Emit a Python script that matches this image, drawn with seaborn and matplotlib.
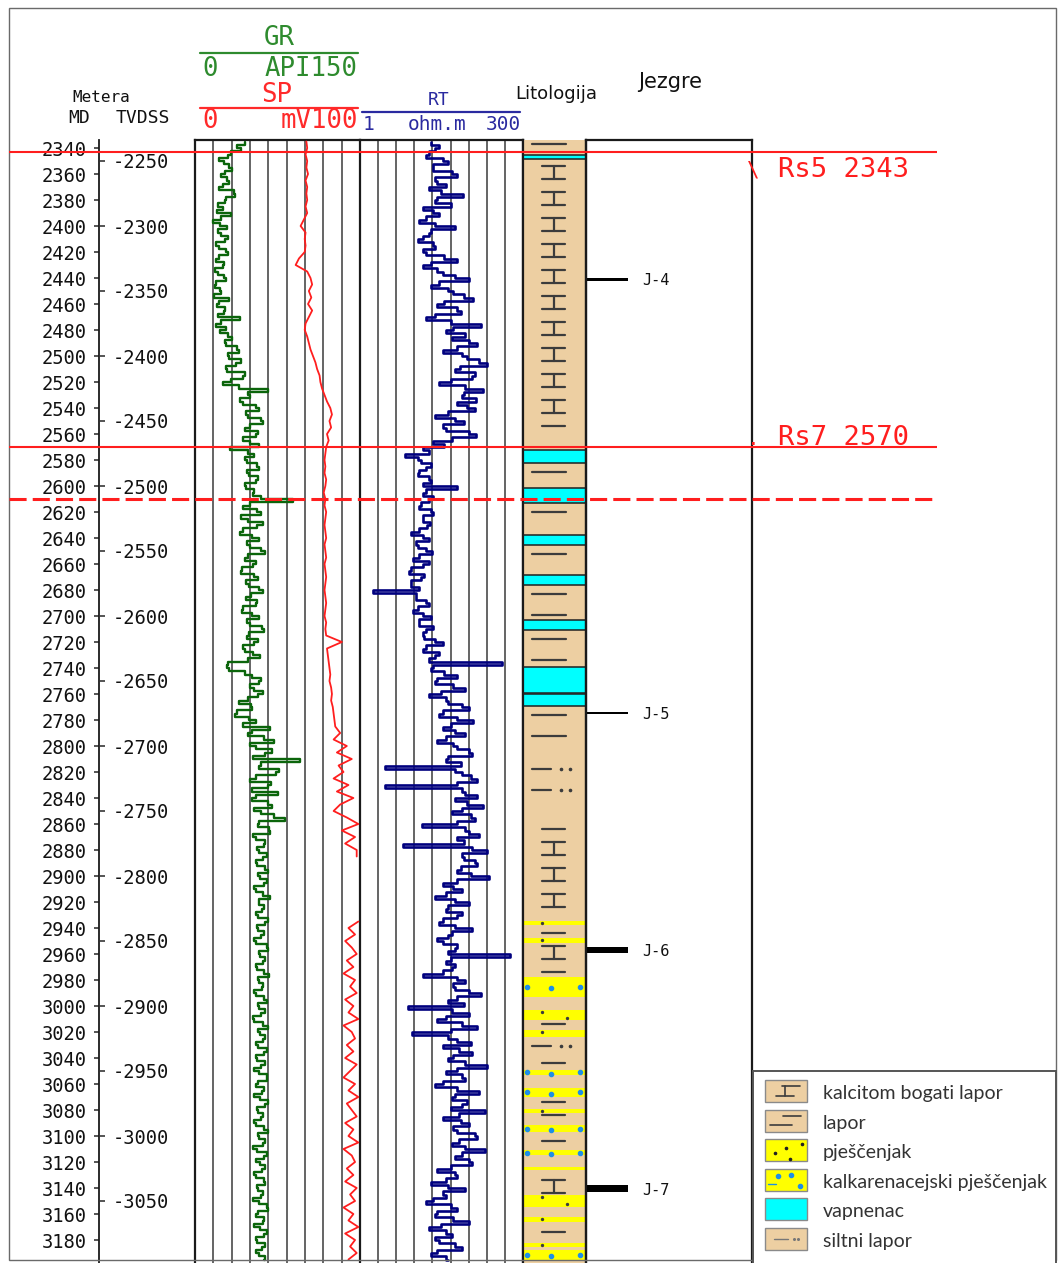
"""
Well log panel: GR / SP / RT curves with lithology and core columns.
Digitised by hand from the reference picture (GR, RT at 2.5 m, SP at 5 m).
"""
import numpy as np
import pandas as pd
import matplotlib
matplotlib.use("Agg")
import matplotlib.pyplot as plt
from matplotlib.patches import Rectangle
from matplotlib.ticker import FixedLocator, NullLocator
import seaborn as sns

# ---------------------------------------------------------------- data
md_fine = np.arange(2335, 3197.5, 2.5)   # MD of GR / RT samples (m)
md_sp = np.arange(2335, 3200, 5)          # MD of SP samples (m)

gr = [45, 38, 42, 33, 30, 22, 26, 31, 34, 27, 24, 29, 31, 25, 22, 35, 36, 28, 27, 21,   # 2335-
      25, 20, 33, 24, 16, 23, 29, 21, 24, 30, 27, 19, 22, 28, 30, 22, 19, 26, 25, 18,   # 2385-
      21, 26, 28, 19, 18, 23, 24, 17, 31, 22, 20, 27, 26, 21, 41, 24, 19, 28, 23, 30,   # 2435-
      34, 27, 28, 38, 40, 30, 31, 42, 37, 28, 29, 45, 44, 33, 25, 40, 66, 48, 50, 41,   # 2485-
      44, 55, 58, 46, 48, 60, 62, 50, 45, 57, 55, 44, 50, 58, 32, 48, 54, 45, 47, 56,   # 2535-
      58, 47, 49, 57, 55, 45, 46, 54, 53, 60, 89, 50, 44, 56, 60, 42, 48, 62, 56, 44,   # 2585-
      41, 52, 58, 47, 50, 60, 64, 48, 45, 55, 53, 43, 42, 54, 57, 46, 49, 58, 62, 51,   # 2635-
      46, 56, 55, 44, 43, 52, 58, 47, 50, 61, 63, 49, 47, 57, 54, 44, 45, 53, 59, 48,   # 2685-
      30, 29, 31, 45, 52, 60, 58, 50, 54, 62, 57, 48, 40, 51, 52, 38, 36, 49, 55, 44,   # 2735-
      68, 52, 48, 63, 72, 50, 55, 70, 64, 53, 95, 60, 58, 76, 74, 55, 50, 69, 66, 52,   # 2785-
      75, 55, 52, 66, 70, 54, 60, 72, 82, 58, 57, 67, 68, 53, 55, 64, 63, 56, 58, 65,   # 2835-
      62, 55, 56, 64, 66, 57, 59, 65, 63, 54, 55, 62, 68, 58, 58, 63, 61, 55, 57, 66,   # 2885-
      64, 56, 57, 63, 60, 54, 55, 65, 66, 58, 59, 64, 62, 55, 56, 63, 67, 57, 58, 62,   # 2935-
      61, 54, 55, 63, 65, 57, 58, 64, 60, 53, 54, 62, 66, 57, 59, 64, 62, 55, 57, 65,   # 2985-
      63, 55, 56, 64, 60, 54, 58, 65, 65, 57, 55, 63, 61, 54, 59, 66, 64, 56, 57, 62,   # 3035-
      60, 54, 55, 63, 66, 57, 58, 64, 62, 53, 56, 65, 63, 55, 59, 64, 61, 54, 55, 63,   # 3085-
      64, 56, 57, 62, 60, 53, 58, 65, 66, 57, 55, 63, 62, 54, 59, 65, 63, 55, 56, 64,   # 3135-
      61, 55, 58, 64, 63]                                                               # 3185-

rt = [12, 16, 14, 11, 10, 18, 22, 13, 13, 25, 30, 14, 15, 20, 11, 17, 37, 15, 14, 24,
      9, 13, 16, 10, 8, 14, 28, 12, 11, 9, 7.5, 13, 14, 9, 10, 19, 30, 12, 9, 15,
      18, 28, 45, 16, 12, 22, 26, 38, 52, 19, 15, 30, 34, 14, 10, 24, 70, 26, 20, 40,
      25, 45, 60, 30, 18, 36, 42, 65, 85, 33, 28, 55, 50, 24, 16, 40, 75, 38, 35, 58,
      30, 42, 55, 22, 14, 28, 38, 18, 20, 45, 58, 25, 13, 19, 9, 11, 4.8, 7.5, 8.5, 12,
      10, 8, 7.5, 11, 12, 9, 30, 10, 9, 13, 11, 8.5, 8, 12, 13, 9, 9, 11.5, 10.5, 8,
      6, 9, 11, 7, 7.5, 10, 12.5, 8, 6.5, 11, 9, 6, 5.5, 9.5, 8.5, 6, 6, 8, 1.6, 7,
      7, 10, 11, 7.5, 6.5, 9, 12, 8, 8, 13, 10, 9, 9.5, 14, 18, 10, 9, 16, 14, 11,
      144, 13, 12, 19, 30, 15, 14, 26, 40, 17, 11, 20, 22, 35, 45, 18, 16, 30, 52, 24,
      18, 28, 40, 20, 15, 26, 30, 45, 50, 22, 20, 34, 2.4, 28, 35, 48, 60, 30, 2.4, 36,
      40, 60, 28, 42, 75, 35, 25, 48, 55, 30, 8.8, 40, 45, 65, 30, 38, 4.5, 50, 85, 36,
      38, 55, 60, 34, 30, 48, 90, 30, 18, 26, 35, 20, 14, 28, 45, 22, 20, 36, 30, 18,
      16, 28, 50, 25, 22, 15, 18, 30, 28, 22, 190, 24, 20, 28, 25, 18, 9, 30, 40, 26,
      28, 45, 70, 30, 22, 38, 5.4, 25, 45, 20, 15, 35, 60, 24, 6.2, 22, 30, 48, 18, 32,
      50, 26, 22, 40, 85, 30, 20, 36, 40, 18, 14, 30, 65, 28, 25, 42, 35, 24, 80, 32,
      18, 34, 45, 26, 30, 55, 60, 32, 25, 40, 80, 36, 28, 45, 50, 24, 15, 28, 30, 20,
      12, 22, 40, 18, 20, 13, 10, 24, 30, 15, 14, 26, 45, 17, 11, 20, 25, 14, 16, 28,
      35, 15, 12, 20, 22]

nan = np.nan
sp = [67.5, 68, 67, 68, 67.5, 68.5, 67, 68, 67.5, 68,          # 2335-
      67, 68, 66, 64, 67, 66.5, 67, 66.5, 63, 61,              # 2385-
      68, 70, 71, 69, 70.5, 68.5, 71, 69, 67, 66.5,            # 2435-
      68, 69, 70, 71.5, 73, 74, 75.5, 76, 77, 78.5,            # 2485-
      80, 82, 83, 81.5, 82.5, 80, 81, 79.5, 79, 78.5,          # 2535-
      79, 78.5, 79.5, 79, 78, 79, 78.5, 79.5, 79, 78.5,        # 2585-
      79, 79.5, 78.5, 79, 79.5, 78.5, 79, 79.5, 79, 78.5,      # 2635-
      79, 79.5, 79, 78.5, 79.5, 79, 79.5, 89, 80, 80.5,        # 2685-
      81, 81.5, 82, 81.5, 82.5, 83, 82.5, 83.5, 84, 84.5,      # 2735-
      85, 88, 84, 92, 86, 95, 87, 90, 84, 93,                  # 2785-
      86, 96, 88, 84, 92, 99, 89, 97, 91, 98,                  # 2835-
      98, nan, nan, nan, nan, nan, nan, nan, nan, nan,         # 2885-
      99, 93, 97, 91, 95, 98, 92, 96, 90, 97,                  # 2935-
      94, 98, 91, 96, 93, 99, 90, 95, 97, 92,                  # 2985-
      96, 91, 98, 94, 90, 97, 93, 99, 92, 95,                  # 3035-
      98, 91, 96, 93, 99, 90, 95, 97, 92, 96,                  # 3085-
      91, 98, 94, 97, 90, 96, 93, 99, 91, 97,                  # 3135-
      94, 98, 93]                                              # 3185-

md_ticks = list(range(2340, 3181, 20))
tvd_ticks = list(range(2350, 3151, 50))   # MD of the TVDSS ticks
tvd_shift = 100                           # TVDSS = shift - MD

top_names = ["Rs5", "Rs7"]
top_md = [2343, 2570]
marker_md = 2610                          # dashed red line

core_names = ["J-4", "J-5", "J-6", "J-7"]
core_top = [2440, 2773.5, 2954.5, 3138]
core_base = [2442, 2775.5, 2959.5, 3143]

lith_top = [2330, 2345.5, 2348.5, 2562, 2572, 2582, 2601.5, 2613, 2638, 2645.5,
            2668.5, 2676, 2703, 2711, 2739, 2759, 2760, 2769, 2811, 2853,
            2934.5, 2937.5, 2947.5, 2951.5, 2977.5, 2993, 3003, 3011, 3018.5, 3024,
            3041.5, 3049, 3053, 3063, 3070, 3079, 3082.5, 3091.5, 3097, 3111,
            3114.5, 3124, 3126, 3145.5, 3154.5, 3162.5, 3166, 3182.5, 3185.5, 3187.5,
            3195]
lith_type = ["lapor", "vap", "kalc", "lapor", "vap", "lapor", "vap", "lapor", "vap", "lapor",
             "vap", "lapor", "vap", "lapor", "vap", "lapor", "vap", "lapor", "silt", "kalc",
             "pjes", "kalc", "pjes", "kalc", "kalk", "kalc", "pjes", "kalc", "pjes", "silt",
             "kalc", "kalk", "kalc", "kalk", "kalc", "pjes", "kalc", "kalk", "kalc", "kalk",
             "kalc", "pjes", "kalc", "pjes", "kalc", "pjes", "kalc", "pjes", "kalc", "kalk",
             "kalc"]
lith_base = lith_top[1:] + [3210]

legend_kinds = ["kalc", "lapor", "pjes", "kalk", "vap", "silt"]
legend_labels = ["kalcitom bogati lapor", "lapor", "pješčenjak",
                 "kalkarenacejski pješčenjak", "vapnenac", "siltni lapor"]

# ---------------------------------------------------------------- style
W, H = 1059, 1263
MONO = "DejaVu Sans Mono"
TAN, YEL, CYAN = "#EDCFA2", "#FFFF00", "#00FFFF"
LITH_COLOR = {"kalc": TAN, "lapor": TAN, "silt": TAN, "pjes": YEL, "kalk": YEL, "vap": CYAN}
INK = "#3c3c3c"
GRID = "#3a3a3a"
RED = "#ff1e1e"

sns.set_style("white")
plt.rcParams["font.family"] = ["DejaVu Sans"]

fig = plt.figure(figsize=(W / 100, H / 100), dpi=100)


def px_axes(x0, y0, x1, y1, label):
    return fig.add_axes([x0 / W, 1 - y1 / H, (x1 - x0) / W, (y1 - y0) / H], label=label)


def depth_of(py):
    # vertical scale of the log: 2340 m at 148 px, 1.3 px per metre
    return 2340 + (py - 148) / 1.3


YTOP, YBOT = depth_of(140), depth_of(H)


def clean(ax, keep=()):
    for side in ["top", "bottom", "left", "right"]:
        ax.spines[side].set_visible(side in keep)
        ax.spines[side].set_color("#1a1a1a")
        ax.spines[side].set_linewidth(1.6)
    ax.set_ylim(YBOT, YTOP)
    ax.tick_params(length=0, labelbottom=False, labelleft=False, labeltop=False)
    ax.set_xlabel("")
    ax.set_ylabel("")
    ax.patch.set_alpha(0)


# ---------------------------------------------------------------- depth axis
ax_md = px_axes(99, 140, 100, H, "md")
clean(ax_md, keep=("left",))
ax_md.spines["left"].set_linewidth(1.3)
ax_md.set_xticks([])
ax_md.set_yticks(md_ticks)
ax_md.set_yticklabels([str(v) for v in md_ticks], fontfamily=MONO, fontsize=13.5, color="#111")
ax_md.tick_params(axis="y", left=True, direction="out", length=3.3, width=1.1,
                  pad=5.5, labelleft=True)

ax_tv = px_axes(99, 140, 100, H, "tvd")
clean(ax_tv)
ax_tv.set_xticks([])
ax_tv.yaxis.tick_right()
ax_tv.set_yticks(tvd_ticks)
ax_tv.set_yticklabels([str(tvd_shift - v) for v in tvd_ticks], fontfamily=MONO,
                      fontsize=13.5, color="#111")
ax_tv.tick_params(axis="y", right=True, direction="out", length=3.3, width=1.1,
                  pad=6.0, labelright=True)

# ---------------------------------------------------------------- GR / SP track
fine_df = pd.DataFrame({"md": md_fine, "gr": gr, "rt": rt})
sp_df = pd.DataFrame({"md": md_sp, "sp": sp})
sp_df["seg"] = sp_df["sp"].isna().cumsum()
sp_df = sp_df.dropna(subset=["sp"])

ax_gr = px_axes(195, 140, 360, H, "gr")
sns.lineplot(data=fine_df, x="gr", y="md", orient="y", sort=False, estimator=None,
             color="#0b650b", lw=1.7, drawstyle="steps-pre", ax=ax_gr)
ax_gr.set_xlim(0, 150)
ax_gr.xaxis.set_major_locator(FixedLocator(np.linspace(0, 150, 10)[1:-1]))
ax_gr.grid(axis="x", color=GRID, lw=1.1)
ax_gr.set_yticks([])
clean(ax_gr, keep=("top", "left", "right"))

ax_sp = ax_gr.twiny()
sns.lineplot(data=sp_df, x="sp", y="md", units="seg", orient="y", sort=False,
             estimator=None, color=RED, lw=1.3, ax=ax_sp)
ax_sp.set_xlim(0, 100)
ax_sp.set_xticks([])
clean(ax_sp)

# ---------------------------------------------------------------- RT track
ax_rt = px_axes(360, 140, 523, H, "rt")
ax_rt.set_xscale("log")
sns.lineplot(data=fine_df, x="rt", y="md", orient="y", sort=False, estimator=None,
             color="#00007f", lw=1.9, drawstyle="steps-pre", ax=ax_rt)
ax_rt.set_xlim(1, 300)
ax_rt.xaxis.set_major_locator(FixedLocator(300 ** (np.arange(1, 9) / 9)))
ax_rt.xaxis.set_minor_locator(NullLocator())
ax_rt.grid(axis="x", which="major", color=GRID, lw=1.1)
ax_rt.set_yticks([])
clean(ax_rt, keep=("top", "right"))

# ---------------------------------------------------------------- lithology column
ax_li = px_axes(523, 140, 586, H, "lith")
ax_li.set_xlim(0, 1)
for top, base, kind in zip(lith_top, lith_base, lith_type):
    ax_li.axhspan(top, base, facecolor=LITH_COLOR[kind], lw=0, zorder=1)
    if kind == "vap":
        ax_li.hlines([top, base], 0, 1, color="#202020", lw=1.1, zorder=3)
    elif kind in ("lapor", "silt"):
        for d in np.arange(top + 7, base - 3, 16):
            if kind == "lapor":
                ax_li.plot([0.15, 0.68], [d, d], color=INK, lw=1.6, zorder=3)
            else:
                ax_li.plot([0.15, 0.45], [d, d], color=INK, lw=1.6, zorder=3)
                ax_li.plot([0.6, 0.74], [d, d], ls="none", marker="o", ms=1.6,
                           color=INK, zorder=3)
    elif kind == "pjes":
        for j, d in enumerate(np.arange(top + 1.5, base - 0.5, 5)):
            ax_li.plot([0.3 + 0.4 * (j % 2)], [d], marker="o", ms=1.4, color=INK, zorder=3)
    elif kind == "kalk":
        mid = (top + base) / 2
        ax_li.plot([0.07, 0.45, 0.9], [mid, mid + 1, mid], ls="none", marker="o", ms=3,
                   color="#1e8fe6", zorder=3)

# calcite-rich marl: dashes every 10 m, every other pair joined by a stem
grid_md = np.arange(2354, 3200, 10)
for k, g in enumerate(grid_md):
    i = np.searchsorted(lith_top, g, side="right") - 1
    if lith_type[i] != "kalc" or g < lith_top[i] + 1.5 or g > lith_base[i] - 1.5:
        continue
    ax_li.plot([0.3, 0.67], [g, g], color=INK, lw=1.6, zorder=3)
    if k % 2 == 0 and g + 10 <= lith_base[i] - 1.5:
        ax_li.plot([0.485, 0.485], [g, g + 10], color=INK, lw=1.6, zorder=3)

ax_li.set_yticks(np.arange(2340, 3200, 10))
clean(ax_li, keep=("left", "right"))
ax_li.tick_params(axis="y", left=True, right=True, direction="in", length=3.5,
                  width=1.2, color="#202020")

# ---------------------------------------------------------------- cores
ax_co = px_axes(586, 140, 752, H, "core")
ax_co.set_xlim(0, 1)
for name, t, b in zip(core_names, core_top, core_base):
    ax_co.add_patch(Rectangle((0, t), 0.253, b - t, color="black", lw=0))
    ax_co.text(0.34, (t + b) / 2, name, fontfamily=MONO, fontsize=11,
               va="center_baseline", ha="left", color="#111")
ax_co.set_yticks([])
clean(ax_co, keep=("top", "left", "right"))

# ---------------------------------------------------------------- formation tops overlay
ax_ov = px_axes(0, 140, W, H, "tops")
ax_ov.set_xlim(0, W)
ax_ov.set_zorder(10)
ax_ov.hlines(top_md, 9, 937, color=RED, lw=1.5)
ax_ov.hlines([marker_md], 9, 937, color=RED, lw=2.2, linestyles=(0, (5.6, 2.0)))
label_dy = [25, -2]     # baseline offset of each label from its line, px
mark = ["\\", "."]
for name, d, dy, m in zip(top_names, top_md, label_dy, mark):
    ax_ov.text(747, d + dy / 1.3, m, fontfamily=MONO, fontsize=15,
               color=RED, va="baseline", ha="left")
    ax_ov.text(778, d + dy / 1.3, f"{name} {d}", fontfamily=MONO, fontsize=19.5,
               color=RED, va="baseline", ha="left")
ax_ov.set_xticks([])
ax_ov.set_yticks([])
clean(ax_ov)

# ---------------------------------------------------------------- header
ax_hd = px_axes(0, 0, W, 140, "header")
ax_hd.set_xlim(0, W)
ax_hd.set_ylim(140, 0)
ax_hd.axis("off")
green_t, red_t, blue_t = "#2e8b2e", "#ff2a2a", "#2a2aa0"
big = dict(fontfamily=MONO, fontsize=18.5, va="baseline")
ax_hd.text(279, 45, "GR", color=green_t, ha="center", **big)
ax_hd.plot([200, 358], [52.5, 52.5], color=green_t, lw=1.6)
ax_hd.text(202, 75.5, "0", color=green_t, ha="left", **big)
ax_hd.text(358, 75.5, "API150", color=green_t, ha="right", **big)
ax_hd.text(277, 101.5, "SP", color=red_t, ha="center", **big)
ax_hd.plot([200, 358], [107.7, 107.7], color=red_t, lw=1.6)
ax_hd.text(202, 128, "0", color=red_t, ha="left", **big)
ax_hd.text(358, 128, "mV100", color=red_t, ha="right", **big)
ax_hd.text(439, 105, "RT", fontfamily=MONO, fontsize=13, color=blue_t, ha="center", va="baseline")
ax_hd.plot([362, 520], [111.7, 111.7], color=blue_t, lw=1.6)
ax_hd.text(363, 130, "1", fontfamily=MONO, fontsize=14, color=blue_t, ha="left", va="baseline")
ax_hd.text(437, 130, "ohm.m", fontfamily=MONO, fontsize=14, color=blue_t, ha="center", va="baseline")
ax_hd.text(521, 130, "300", fontfamily=MONO, fontsize=14, color=blue_t, ha="right", va="baseline")
ax_hd.text(101, 102, "Metera", fontfamily=MONO, fontsize=11.5, color="#111", ha="center", va="baseline")
ax_hd.text(79, 123, "MD", fontfamily=MONO, fontsize=13, color="#111", ha="center", va="baseline")
ax_hd.text(143, 123, "TVDSS", fontfamily=MONO, fontsize=13, color="#111", ha="center", va="baseline")
ax_hd.text(556, 99, "Litologija", fontsize=13, color="#111", ha="center", va="baseline")
ax_hd.text(670, 88, "Jezgre", fontsize=15, color="#111", ha="center", va="baseline")

# ---------------------------------------------------------------- legend
ax_lg = px_axes(753, 1071, 1056, H, "legend")
ax_lg.set_xlim(753, 1056)
ax_lg.set_ylim(H, 1071)
ax_lg.set_xticks([])
ax_lg.set_yticks([])
for side in ["top", "left", "right"]:
    ax_lg.spines[side].set_color("#555")
    ax_lg.spines[side].set_linewidth(1.4)
ax_lg.spines["bottom"].set_visible(False)
ax_lg.set_zorder(11)

for i, (kind, label) in enumerate(zip(legend_kinds, legend_labels)):
    y0 = 1080 + 29.6 * i
    ax_lg.add_patch(Rectangle((765, y0), 42, 22, facecolor=LITH_COLOR[kind],
                              edgecolor="#8a8a8a", lw=1.0))
    if kind == "kalc":
        ax_lg.plot([782, 800], [y0 + 6, y0 + 6], color=INK, lw=1.2)
        ax_lg.plot([776, 794], [y0 + 16, y0 + 16], color=INK, lw=1.2)
        ax_lg.plot([785, 785], [y0 + 6, y0 + 16], color=INK, lw=1.2)
    elif kind == "lapor":
        ax_lg.plot([783, 801], [y0 + 6, y0 + 6], color=INK, lw=1.2)
        ax_lg.plot([770, 792], [y0 + 15, y0 + 15], color=INK, lw=1.2)
    elif kind == "pjes":
        ax_lg.plot([775, 786, 802, 790], [y0 + 14, y0 + 9, y0 + 5, y0 + 20],
                   ls="none", marker="o", ms=1.6, color="#222")
    elif kind == "kalk":
        ax_lg.plot([778, 791, 800], [y0 + 7, y0 + 6, y0 + 17], ls="none", marker="o",
                   ms=3, color="#1e8fe6")
        ax_lg.plot([768, 776], [y0 + 15, y0 + 15], color="#1e8fe6", lw=1)
    elif kind == "silt":
        ax_lg.plot([774, 788], [y0 + 11, y0 + 11], color="#777", lw=1.0)
        ax_lg.plot([794, 798], [y0 + 11, y0 + 11], ls="none", marker="o", ms=1.2, color="#777")
    ax_lg.text(823, y0 + 12, label, fontfamily="Lato", fontsize=14, color="#333",
               ha="left", va="center_baseline")

# outer frame
fig.add_artist(Rectangle((9 / W, 1 - 1260 / H), (1056 - 9) / W, (1260 - 8) / H,
                         transform=fig.transFigure, fill=False, ec="#6a6a6a", lw=1.0))

fig.savefig("out.png", dpi=100)
